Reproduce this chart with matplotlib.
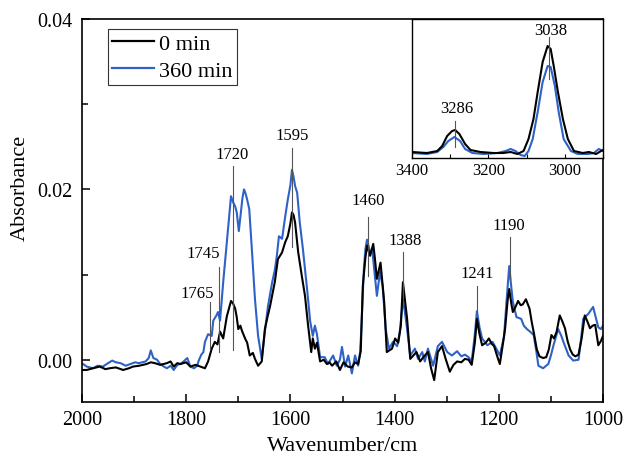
import matplotlib
matplotlib.use("Agg")
import matplotlib.pyplot as plt
from matplotlib.ticker import MultipleLocator

plt.rcParams['font.family'] = ['Liberation Serif', 'DejaVu Serif']
plt.rcParams['mathtext.fontset'] = 'stix'

# ---------------- data ----------------
wn_0min = [1998, 1991, 1979, 1966, 1955, 1947, 1935, 1921, 1910, 1902, 1890, 1876, 1868, 1860,
           1850, 1837, 1830, 1824, 1817, 1811, 1800, 1792, 1782, 1773, 1764, 1758, 1751, 1745,
           1740, 1735, 1729, 1722, 1714, 1710, 1706, 1703, 1700, 1696, 1693, 1687, 1683, 1678,
           1672, 1668, 1662, 1655, 1649, 1644, 1639, 1630, 1624, 1616, 1610, 1605, 1600, 1597,
           1594, 1591, 1585, 1578, 1572, 1566, 1560, 1557, 1553, 1549, 1543, 1536, 1530, 1525,
           1520, 1512, 1505, 1498, 1490, 1482, 1476, 1470, 1465, 1461, 1456, 1453, 1447, 1441,
           1438, 1434, 1427, 1420, 1415, 1410, 1405, 1399, 1393, 1388, 1384, 1380, 1376, 1370,
           1364, 1358, 1351, 1345, 1336, 1330, 1324, 1317, 1309, 1302, 1294, 1287, 1280, 1272,
           1265, 1258, 1252, 1246, 1242, 1237, 1232, 1225, 1219, 1214, 1209, 1203, 1198, 1193,
           1188, 1183, 1180, 1176, 1173, 1168, 1163, 1158, 1154, 1148, 1141, 1137, 1132, 1127,
           1122, 1115, 1109, 1104, 1099, 1094, 1089, 1083, 1078, 1073, 1068, 1063, 1058, 1053,
           1047, 1041, 1035, 1030, 1025, 1020, 1015, 1009, 1004, 1000]
abs_0min = [-0.0012, -0.0012, -0.0010, -0.0008, -0.0011, -0.0010, -0.0009, -0.0012, -0.0010,
            -0.0008, -0.0007, -0.0005, -0.0003, -0.0004, -0.0006, -0.0004, -0.0002, -0.0008,
            -0.0004, -0.0005, -0.0003, -0.0008, -0.0006, -0.0008, -0.0010, -0.0002, 0.0013,
            0.0021, 0.0018, 0.0033, 0.0025, 0.0051, 0.0069, 0.0066, 0.0060, 0.0050, 0.0036,
            0.0040, 0.0034, 0.0025, 0.0020, 0.0005, 0.0008, 0.0001, -0.0007, -0.0002, 0.0036,
            0.0050, 0.0063, 0.0091, 0.0118, 0.0126, 0.0138, 0.0145, 0.0160, 0.0173, 0.0170,
            0.0161, 0.0126, 0.0098, 0.0075, 0.0040, 0.0009, 0.0025, 0.0013, 0.0020, -0.0002,
            0.0000, -0.0005, -0.0003, -0.0007, -0.0002, -0.0012, -0.0003, -0.0008, -0.0009,
            -0.0003, -0.0005, 0.0010, 0.0087, 0.0120, 0.0134, 0.0122, 0.0136, 0.0120, 0.0095,
            0.0114, 0.0068, 0.0009, 0.0011, 0.0013, 0.0025, 0.0020, 0.0040, 0.0091, 0.0070,
            0.0048, 0.0001, 0.0005, 0.0009, -0.0002, 0.0003, 0.0009, -0.0010, -0.0024, 0.0009,
            0.0016, 0.0001, -0.0014, -0.0006, -0.0002, -0.0003, 0.0001, 0.0000, -0.0006, 0.0020,
            0.0048, 0.0030, 0.0017, 0.0020, 0.0025, 0.0019, 0.0016, 0.0004, -0.0005, 0.0015,
            0.0036, 0.0070, 0.0083, 0.0066, 0.0056, 0.0062, 0.0069, 0.0064, 0.0065, 0.0071,
            0.0060, 0.0045, 0.0029, 0.0012, 0.0004, 0.0002, 0.0003, 0.0012, 0.0029, 0.0025,
            0.0033, 0.0052, 0.0045, 0.0037, 0.0022, 0.0012, 0.0006, 0.0004, 0.0006, 0.0025,
            0.0052, 0.0045, 0.0037, 0.0040, 0.0041, 0.0017, 0.0022, 0.0028]

wn_360min = [1998, 1991, 1979, 1970, 1960, 1950, 1942, 1935, 1926, 1916, 1907, 1898, 1891, 1878,
             1872, 1868, 1863, 1856, 1850, 1843, 1837, 1830, 1824, 1817, 1811, 1805, 1798, 1792,
             1785, 1779, 1776, 1771, 1767, 1764, 1758, 1751, 1748, 1742, 1739, 1735, 1729, 1722,
             1714, 1710, 1706, 1703, 1699, 1695, 1692, 1689, 1686, 1683, 1679, 1674, 1668, 1662,
             1655, 1649, 1643, 1635, 1630, 1626, 1622, 1616, 1610, 1605, 1600, 1597, 1594, 1591,
             1587, 1582, 1576, 1568, 1562, 1557, 1553, 1549, 1543, 1534, 1528, 1518, 1511, 1505,
             1501, 1495, 1489, 1482, 1476, 1470, 1466, 1463, 1459, 1456, 1453, 1447, 1443, 1441,
             1434, 1428, 1423, 1417, 1411, 1403, 1395, 1390, 1384, 1380, 1376, 1370, 1361, 1355,
             1347, 1342, 1336, 1326, 1317, 1309, 1299, 1290, 1280, 1272, 1265, 1258, 1252, 1246,
             1242, 1237, 1232, 1222, 1212, 1203, 1198, 1190, 1185, 1180, 1176, 1173, 1166, 1157,
             1152, 1146, 1140, 1133, 1128, 1124, 1115, 1105, 1100, 1095, 1086, 1080, 1076, 1066,
             1057, 1047, 1042, 1038, 1028, 1019, 1014, 1009, 1004, 1000]
abs_360min = [-0.0005, -0.0008, -0.0010, -0.0007, -0.0008, -0.0004, -0.0001, -0.0003, -0.0004,
              -0.0007, -0.0005, -0.0003, -0.0004, -0.0002, 0.0002, 0.0011, 0.0002, 0.0000,
              -0.0005, -0.0008, -0.0010, -0.0007, -0.0012, -0.0006, -0.0005, -0.0002, 0.0002,
              -0.0008, -0.0010, -0.0007, -0.0001, 0.0006, 0.0009, 0.0021, 0.0030, 0.0028,
              0.0046, 0.0052, 0.0056, 0.0046, 0.0091, 0.0138, 0.0192, 0.0185, 0.0180, 0.0173,
              0.0151, 0.0173, 0.0190, 0.0200, 0.0195, 0.0188, 0.0177, 0.0130, 0.0071, 0.0028,
              0.0001, 0.0033, 0.0063, 0.0091, 0.0105, 0.0122, 0.0145, 0.0142, 0.0168, 0.0188,
              0.0205, 0.0223, 0.0215, 0.0204, 0.0196, 0.0161, 0.0130, 0.0083, 0.0045, 0.0028,
              0.0040, 0.0030, 0.0003, 0.0003, -0.0005, 0.0005, -0.0007, 0.0000, 0.0015, -0.0008,
              0.0005, -0.0016, 0.0005, -0.0007, 0.0010, 0.0048, 0.0106, 0.0130, 0.0141, 0.0126,
              0.0130, 0.0118, 0.0075, 0.0103, 0.0087, 0.0036, 0.0013, 0.0021, 0.0016, 0.0033,
              0.0071, 0.0055, 0.0036, 0.0005, 0.0013, 0.0001, 0.0009, -0.0002, 0.0013, -0.0007,
              0.0016, 0.0021, 0.0009, 0.0005, 0.0010, 0.0004, 0.0006, 0.0003, -0.0002, 0.0030,
              0.0057, 0.0038, 0.0025, 0.0017, 0.0021, 0.0011, 0.0005, 0.0027, 0.0070, 0.0110,
              0.0085, 0.0068, 0.0050, 0.0048, 0.0040, 0.0036, 0.0033, 0.0029, 0.0010, -0.0007,
              -0.0010, -0.0005, 0.0005, 0.0017, 0.0036, 0.0028, 0.0021, 0.0005, -0.0001, 0.0000,
              0.0025, 0.0048, 0.0054, 0.0062, 0.0050, 0.0038, 0.0036, 0.0040]

# inset (3400-2900 cm-1)
wn_in_0 = [3400, 3361, 3334, 3321, 3308, 3295, 3287, 3276, 3261, 3247, 3221, 3187, 3161, 3142,
           3124, 3108, 3095, 3082, 3071, 3058, 3045, 3037, 3029, 3018, 3005, 2992, 2976, 2953,
           2937, 2918, 2905, 2900]
abs_in_0 = [0.0018, 0.0015, 0.0021, 0.0036, 0.0066, 0.0081, 0.0084, 0.0072, 0.0042, 0.0024,
            0.0018, 0.0015, 0.0015, 0.0018, 0.0012, 0.0021, 0.0057, 0.0117, 0.0198, 0.0288,
            0.0336, 0.0327, 0.0276, 0.0198, 0.0117, 0.0057, 0.0021, 0.0015, 0.0018, 0.0012,
            0.0021, 0.0024]
wn_in_360 = [3400, 3361, 3334, 3318, 3305, 3289, 3274, 3261, 3242, 3213, 3176, 3155, 3142, 3129,
             3116, 3105, 3095, 3084, 3071, 3058, 3045, 3037, 3026, 3016, 3003, 2984, 2966, 2939,
             2924, 2911, 2900]
abs_in_360 = [0.0015, 0.0012, 0.0018, 0.0033, 0.0051, 0.0063, 0.0051, 0.0027, 0.0015, 0.0012,
              0.0015, 0.0021, 0.0027, 0.0021, 0.0009, 0.0006, 0.0021, 0.0057, 0.0138, 0.0228,
              0.0276, 0.0273, 0.0216, 0.0138, 0.0057, 0.0021, 0.0012, 0.0012, 0.0015, 0.0027,
              0.0021]

series_labels = ['0 min', '360 min']

# peak annotations: label, line x, line top, line bottom, label x, label y
peak_labels = ['1765', '1745', '1720', '1595', '1460', '1388', '1241', '1190']
peak_line_x = [1755, 1738, 1711, 1596, 1452, 1383, 1242, 1178]
peak_line_top = [0.0068, 0.0109, 0.0227, 0.0249, 0.0167, 0.0126, 0.0087, 0.0144]
peak_line_bot = [0.0013, 0.0009, 0.0011, 0.0132, 0.0098, 0.0075, 0.0056, 0.0095]
peak_text_x = [1779, 1768, 1712, 1597, 1451, 1380, 1242, 1180]
peak_text_y = [0.0078, 0.0125, 0.0242, 0.0264, 0.0188, 0.0140, 0.0102, 0.0158]

inset_labels = ['3286', '3038']
inset_line_x = [3287, 3042]
inset_line_top = [0.0111, 0.0363]
inset_line_bot = [0.0033, 0.0237]
inset_text_x = [3282, 3036]
inset_text_y = [0.0149, 0.0383]

# ---------------- figure ----------------
W, H = 626, 456
fig = plt.figure(figsize=(W / 100, H / 100), dpi=100)
L, R, T, B = 82, 603, 20, 403
ax = fig.add_axes([L / W, (H - B) / H, (R - L) / W, (B - T) / H])

black = '#000000'
blue = '#2f62c6'
ax.plot(wn_0min, abs_0min, color=black, lw=1.5, label=series_labels[0], zorder=3)
ax.plot(wn_360min, abs_360min, color=blue, lw=1.5, label=series_labels[1], zorder=2)

ax.set_xlim(2000, 1000)
ax.set_ylim(-0.00496, 0.04)
ax.xaxis.set_major_locator(MultipleLocator(200))
ax.xaxis.set_minor_locator(MultipleLocator(100))
ax.yaxis.set_major_locator(MultipleLocator(0.02))
ax.yaxis.set_minor_locator(MultipleLocator(0.01))
ax.set_yticks([0.0, 0.02, 0.04])
ax.set_yticklabels(['0.00', '0.02', '0.04'])
ax.tick_params(axis='both', which='major', direction='in', length=6, width=1.1,
               labelsize=14.5, top=False, right=False)
ax.tick_params(axis='both', which='minor', direction='in', length=4, width=1.1,
               top=False, right=False)
ax.tick_params(axis='y', which='major', pad=7)
ax.tick_params(axis='x', which='major', pad=6)
for s in ax.spines.values():
    s.set_linewidth(1.2)
    s.set_color('black')

ax.set_xlabel('Wavenumber/cm', fontsize=16)
ax.set_ylabel('Absorbance', fontsize=16)
ax.xaxis.set_label_coords(0.5, (B - 447) / (B - T))
ax.xaxis.label.set_va('center')
ax.yaxis.set_label_coords((20 - L) / (R - L), (B - 188) / (B - T))
ax.yaxis.label.set_va('center')

for lab, lx, lt, lb, tx, ty in zip(peak_labels, peak_line_x, peak_line_top, peak_line_bot,
                                   peak_text_x, peak_text_y):
    ax.plot([lx, lx], [lb, lt], color='#555555', lw=0.8, zorder=4)
    ax.text(tx, ty, lab, fontsize=12, ha='center', va='center', zorder=5)

leg = ax.legend(loc='upper left', bbox_to_anchor=(108 / W, (H - 30) / H),
                bbox_transform=fig.transFigure, borderaxespad=0, fontsize=16,
                frameon=True, fancybox=False, edgecolor='#333333', framealpha=1,
                borderpad=0.2, handletextpad=0.25, labelspacing=0.28, handlelength=1.85)
leg.get_frame().set_linewidth(0.8)
for line in leg.get_lines():
    line.set_linewidth(1.6)

# ---------------- inset ----------------
IL, IR, IT, IB = 412, 603, 20, 159
axi = fig.add_axes([IL / W, (H - IB) / H, (IR - IL) / W, (IB - IT) / H])
axi.plot(wn_in_0, abs_in_0, color=black, lw=1.5, zorder=3)
axi.plot(wn_in_360, abs_in_360, color=blue, lw=1.5, zorder=2)
axi.set_xlim(3400, 2900)
axi.set_ylim(0, 0.0417)
axi.xaxis.set_major_locator(MultipleLocator(200))
axi.xaxis.set_minor_locator(MultipleLocator(100))
axi.set_yticks([])
axi.tick_params(axis='x', which='both', direction='in', length=3, width=0.8,
                labelsize=12, pad=3, top=False)
for s in axi.spines.values():
    s.set_linewidth(1.0)
    s.set_color('black')
for lab, lx, lt, lb, tx, ty in zip(inset_labels, inset_line_x, inset_line_top, inset_line_bot,
                                   inset_text_x, inset_text_y):
    axi.plot([lx, lx], [lb, lt], color='#555555', lw=0.8, zorder=4)
    axi.text(tx, ty, lab, fontsize=12, ha='center', va='center', zorder=5)

fig.savefig('out.png', dpi=100, facecolor='white')
